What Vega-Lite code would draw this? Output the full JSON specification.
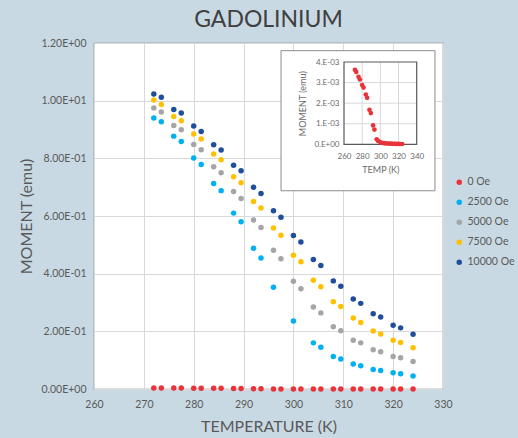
{
  "$schema": "https://vega.github.io/schema/vega-lite/v6.json",
  "width": 349,
  "height": 346,
  "autosize": {"type": "none"},
  "padding": {"left": 94, "top": 43, "right": 75, "bottom": 49},
  "background": "#c9d9e3",
  "title": {"text": "GADOLINIUM", "fontSize": 23, "font": "Lato", "fontWeight": "normal", "color": "#404040", "anchor": "middle", "offset": 6},
  "config": {
    "font": "Lato",
    "view": {"fill": "white", "stroke": "#808080", "strokeWidth": 1.2}
  },
  "datasets": {
    "moment": [
      {"T": 272, "series": "0 Oe", "M": 0.00362},
      {"T": 273.5, "series": "0 Oe", "M": 0.00352},
      {"T": 276, "series": "0 Oe", "M": 0.00328},
      {"T": 277.5, "series": "0 Oe", "M": 0.00315},
      {"T": 280, "series": "0 Oe", "M": 0.00288},
      {"T": 281.5, "series": "0 Oe", "M": 0.00276},
      {"T": 284, "series": "0 Oe", "M": 0.00242},
      {"T": 285.5, "series": "0 Oe", "M": 0.00226},
      {"T": 288, "series": "0 Oe", "M": 0.00168},
      {"T": 289.5, "series": "0 Oe", "M": 0.00152},
      {"T": 292, "series": "0 Oe", "M": 0.00092},
      {"T": 293.5, "series": "0 Oe", "M": 0.00072},
      {"T": 296, "series": "0 Oe", "M": 0.00025},
      {"T": 297.5, "series": "0 Oe", "M": 0.00017},
      {"T": 300, "series": "0 Oe", "M": 0.0001},
      {"T": 301.5, "series": "0 Oe", "M": 0.00008},
      {"T": 304, "series": "0 Oe", "M": 0.00006},
      {"T": 305.5, "series": "0 Oe", "M": 0.00005},
      {"T": 308, "series": "0 Oe", "M": 0.000045},
      {"T": 309.5, "series": "0 Oe", "M": 0.00004},
      {"T": 312, "series": "0 Oe", "M": 0.000035},
      {"T": 313.5, "series": "0 Oe", "M": 0.00003},
      {"T": 316, "series": "0 Oe", "M": 0.00003},
      {"T": 317.5, "series": "0 Oe", "M": 0.000025},
      {"T": 320, "series": "0 Oe", "M": 0.000025},
      {"T": 321.5, "series": "0 Oe", "M": 0.00002},
      {"T": 324, "series": "0 Oe", "M": 0.00002},

      {"T": 272, "series": "2500 Oe", "M": 0.940},
      {"T": 273.5, "series": "2500 Oe", "M": 0.927},
      {"T": 276, "series": "2500 Oe", "M": 0.877},
      {"T": 277.5, "series": "2500 Oe", "M": 0.858},
      {"T": 280, "series": "2500 Oe", "M": 0.801},
      {"T": 281.5, "series": "2500 Oe", "M": 0.779},
      {"T": 284, "series": "2500 Oe", "M": 0.713},
      {"T": 285.5, "series": "2500 Oe", "M": 0.688},
      {"T": 288, "series": "2500 Oe", "M": 0.610},
      {"T": 289.5, "series": "2500 Oe", "M": 0.580},
      {"T": 292, "series": "2500 Oe", "M": 0.488},
      {"T": 293.5, "series": "2500 Oe", "M": 0.454},
      {"T": 296, "series": "2500 Oe", "M": 0.353},
      {"T": 300, "series": "2500 Oe", "M": 0.236},
      {"T": 304, "series": "2500 Oe", "M": 0.160},
      {"T": 305.5, "series": "2500 Oe", "M": 0.145},
      {"T": 308, "series": "2500 Oe", "M": 0.113},
      {"T": 309.5, "series": "2500 Oe", "M": 0.104},
      {"T": 312, "series": "2500 Oe", "M": 0.087},
      {"T": 313.5, "series": "2500 Oe", "M": 0.081},
      {"T": 316, "series": "2500 Oe", "M": 0.068},
      {"T": 317.5, "series": "2500 Oe", "M": 0.064},
      {"T": 320, "series": "2500 Oe", "M": 0.056},
      {"T": 321.5, "series": "2500 Oe", "M": 0.053},
      {"T": 324, "series": "2500 Oe", "M": 0.045},

      {"T": 272, "series": "5000 Oe", "M": 0.975},
      {"T": 273.5, "series": "5000 Oe", "M": 0.961},
      {"T": 276, "series": "5000 Oe", "M": 0.914},
      {"T": 277.5, "series": "5000 Oe", "M": 0.899},
      {"T": 280, "series": "5000 Oe", "M": 0.848},
      {"T": 281.5, "series": "5000 Oe", "M": 0.830},
      {"T": 284, "series": "5000 Oe", "M": 0.771},
      {"T": 285.5, "series": "5000 Oe", "M": 0.750},
      {"T": 288, "series": "5000 Oe", "M": 0.685},
      {"T": 289.5, "series": "5000 Oe", "M": 0.661},
      {"T": 292, "series": "5000 Oe", "M": 0.586},
      {"T": 293.5, "series": "5000 Oe", "M": 0.560},
      {"T": 296, "series": "5000 Oe", "M": 0.481},
      {"T": 297.5, "series": "5000 Oe", "M": 0.452},
      {"T": 300, "series": "5000 Oe", "M": 0.374},
      {"T": 301.5, "series": "5000 Oe", "M": 0.348},
      {"T": 304, "series": "5000 Oe", "M": 0.284},
      {"T": 305.5, "series": "5000 Oe", "M": 0.264},
      {"T": 308, "series": "5000 Oe", "M": 0.216},
      {"T": 309.5, "series": "5000 Oe", "M": 0.202},
      {"T": 312, "series": "5000 Oe", "M": 0.169},
      {"T": 313.5, "series": "5000 Oe", "M": 0.160},
      {"T": 316, "series": "5000 Oe", "M": 0.136},
      {"T": 317.5, "series": "5000 Oe", "M": 0.129},
      {"T": 320, "series": "5000 Oe", "M": 0.113},
      {"T": 321.5, "series": "5000 Oe", "M": 0.108},
      {"T": 324, "series": "5000 Oe", "M": 0.095},

      {"T": 272, "series": "7500 Oe", "M": 1.002},
      {"T": 273.5, "series": "7500 Oe", "M": 0.987},
      {"T": 276, "series": "7500 Oe", "M": 0.945},
      {"T": 277.5, "series": "7500 Oe", "M": 0.930},
      {"T": 280, "series": "7500 Oe", "M": 0.884},
      {"T": 281.5, "series": "7500 Oe", "M": 0.867},
      {"T": 284, "series": "7500 Oe", "M": 0.815},
      {"T": 285.5, "series": "7500 Oe", "M": 0.795},
      {"T": 288, "series": "7500 Oe", "M": 0.736},
      {"T": 289.5, "series": "7500 Oe", "M": 0.715},
      {"T": 292, "series": "7500 Oe", "M": 0.650},
      {"T": 293.5, "series": "7500 Oe", "M": 0.628},
      {"T": 296, "series": "7500 Oe", "M": 0.558},
      {"T": 297.5, "series": "7500 Oe", "M": 0.533},
      {"T": 300, "series": "7500 Oe", "M": 0.464},
      {"T": 301.5, "series": "7500 Oe", "M": 0.441},
      {"T": 304, "series": "7500 Oe", "M": 0.377},
      {"T": 305.5, "series": "7500 Oe", "M": 0.355},
      {"T": 308, "series": "7500 Oe", "M": 0.303},
      {"T": 309.5, "series": "7500 Oe", "M": 0.286},
      {"T": 312, "series": "7500 Oe", "M": 0.246},
      {"T": 313.5, "series": "7500 Oe", "M": 0.231},
      {"T": 316, "series": "7500 Oe", "M": 0.201},
      {"T": 317.5, "series": "7500 Oe", "M": 0.191},
      {"T": 320, "series": "7500 Oe", "M": 0.169},
      {"T": 321.5, "series": "7500 Oe", "M": 0.161},
      {"T": 324, "series": "7500 Oe", "M": 0.143},

      {"T": 272, "series": "10000 Oe", "M": 1.023},
      {"T": 273.5, "series": "10000 Oe", "M": 1.012},
      {"T": 276, "series": "10000 Oe", "M": 0.969},
      {"T": 277.5, "series": "10000 Oe", "M": 0.957},
      {"T": 280, "series": "10000 Oe", "M": 0.912},
      {"T": 281.5, "series": "10000 Oe", "M": 0.893},
      {"T": 284, "series": "10000 Oe", "M": 0.847},
      {"T": 285.5, "series": "10000 Oe", "M": 0.829},
      {"T": 288, "series": "10000 Oe", "M": 0.776},
      {"T": 289.5, "series": "10000 Oe", "M": 0.757},
      {"T": 292, "series": "10000 Oe", "M": 0.700},
      {"T": 293.5, "series": "10000 Oe", "M": 0.678},
      {"T": 296, "series": "10000 Oe", "M": 0.618},
      {"T": 297.5, "series": "10000 Oe", "M": 0.596},
      {"T": 300, "series": "10000 Oe", "M": 0.532},
      {"T": 301.5, "series": "10000 Oe", "M": 0.510},
      {"T": 304, "series": "10000 Oe", "M": 0.449},
      {"T": 305.5, "series": "10000 Oe", "M": 0.428},
      {"T": 308, "series": "10000 Oe", "M": 0.375},
      {"T": 309.5, "series": "10000 Oe", "M": 0.356},
      {"T": 312, "series": "10000 Oe", "M": 0.312},
      {"T": 313.5, "series": "10000 Oe", "M": 0.297},
      {"T": 316, "series": "10000 Oe", "M": 0.261},
      {"T": 317.5, "series": "10000 Oe", "M": 0.250},
      {"T": 320, "series": "10000 Oe", "M": 0.221},
      {"T": 321.5, "series": "10000 Oe", "M": 0.212},
      {"T": 324, "series": "10000 Oe", "M": 0.190}
    ]
  },
  "layer": [
    {
      "data": {"name": "moment"},
      "mark": {"type": "circle", "size": 30, "opacity": 1},
      "encoding": {
        "x": {
          "field": "T", "type": "quantitative",
          "scale": {"domain": [260, 330], "nice": false, "zero": false},
          "axis": {
            "values": [260, 270, 280, 290, 300, 310, 320, 330],
            "title": "TEMPERATURE (K)", "grid": true, "gridColor": "#d9d9d9", "domain": false, "ticks": false,
            "labelFontSize": 10.5, "labelColor": "#595959", "labelPadding": 10, "labelFlush": false,
            "titleFontSize": 16, "titleFontWeight": "normal", "titleColor": "#595959", "titlePadding": 9
          }
        },
        "y": {
          "field": "M", "type": "quantitative",
          "scale": {"domain": [0, 1.2], "nice": false},
          "axis": {
            "values": [0, 0.2, 0.4, 0.6, 0.8, 1, 1.2],
            "labelExpr": "datum.value == 1 ? '1.00E+01' : datum.value == 0 ? '0.00E+00' : datum.value > 1 ? format(datum.value, '.2f') + 'E+00' : format(datum.value * 10, '.2f') + 'E-01'",
            "title": "MOMENT (emu)", "grid": true, "gridColor": "#d9d9d9", "domain": false, "ticks": false,
            "labelFontSize": 10.5, "labelColor": "#595959", "labelPadding": 8, "labelFlush": false,
            "titleFontSize": 16, "titleFontWeight": "normal", "titleColor": "#595959", "titlePadding": 6
          }
        },
        "color": {
          "field": "series", "type": "nominal",
          "scale": {"domain": ["0 Oe", "2500 Oe", "5000 Oe", "7500 Oe", "10000 Oe"], "range": ["#e8333a", "#00b0f0", "#a5a5a5", "#ffc000", "#1f4e9a"]},
          "legend": {
            "orient": "none", "legendX": 360, "legendY": 134, "title": null, "padding": 0,
            "symbolType": "circle", "symbolSize": 30, "labelFontSize": 10.5, "labelColor": "#595959",
            "rowPadding": 9, "labelOffset": 3
          }
        }
      }
    },
    {
      "layer": [
        {
          "data": {"values": [{}]},
          "mark": {"type": "rect", "fill": "white", "stroke": "#8c8c8c", "strokeWidth": 1},
          "encoding": {
            "x": {"datum": 190.7, "type": "quantitative", "scale": {"domain": [260, 340], "range": [250, 322.7], "nice": false, "zero": false}},
            "x2": {"datum": 360.1},
            "y": {"datum": 0.00455, "type": "quantitative", "scale": {"domain": [0, 0.004], "range": [101.4, 19], "nice": false, "zero": false}},
            "y2": {"datum": -0.00225}
          }
        },
        {
          "data": {"values": [{}]},
          "mark": {"type": "rule", "color": "#d9d9d9", "strokeWidth": 1},
          "encoding": {"x": {"datum": 280, "type": "quantitative"}, "y": {"datum": 0, "type": "quantitative"}, "y2": {"datum": 0.004}}
        },
        {
          "data": {"values": [{}]},
          "mark": {"type": "rule", "color": "#d9d9d9", "strokeWidth": 1},
          "encoding": {"x": {"datum": 300, "type": "quantitative"}, "y": {"datum": 0, "type": "quantitative"}, "y2": {"datum": 0.004}}
        },
        {
          "data": {"values": [{}]},
          "mark": {"type": "rule", "color": "#d9d9d9", "strokeWidth": 1},
          "encoding": {"x": {"datum": 320, "type": "quantitative"}, "y": {"datum": 0, "type": "quantitative"}, "y2": {"datum": 0.004}}
        },
        {
          "data": {"values": [{}]},
          "mark": {"type": "rule", "color": "#d9d9d9", "strokeWidth": 1},
          "encoding": {"y": {"datum": 0.001, "type": "quantitative"}, "x": {"datum": 260, "type": "quantitative"}, "x2": {"datum": 340}}
        },
        {
          "data": {"values": [{}]},
          "mark": {"type": "rule", "color": "#d9d9d9", "strokeWidth": 1},
          "encoding": {"y": {"datum": 0.002, "type": "quantitative"}, "x": {"datum": 260, "type": "quantitative"}, "x2": {"datum": 340}}
        },
        {
          "data": {"values": [{}]},
          "mark": {"type": "rule", "color": "#d9d9d9", "strokeWidth": 1},
          "encoding": {"y": {"datum": 0.003, "type": "quantitative"}, "x": {"datum": 260, "type": "quantitative"}, "x2": {"datum": 340}}
        },
        {
          "data": {"values": [{}]},
          "mark": {"type": "rect", "fill": null, "fillOpacity": 0, "stroke": "#595959", "strokeWidth": 1.2},
          "encoding": {"x": {"datum": 260, "type": "quantitative"}, "x2": {"datum": 340}, "y": {"datum": 0, "type": "quantitative"}, "y2": {"datum": 0.004}}
        },
        {
          "data": {"name": "moment"},
          "transform": [{"filter": "datum.series == '0 Oe'"}],
          "mark": {"type": "circle", "size": 22, "opacity": 1, "color": "#e8333a"},
          "encoding": {
            "x": {
              "field": "T", "type": "quantitative",
              "scale": {"domain": [260, 340], "range": [250, 322.7], "nice": false, "zero": false},
              "axis": {
                "orient": "bottom", "offset": -244.6, "zindex": 2,
                "values": [260, 280, 300, 320, 340], "title": "TEMP (K)", "grid": false, "domain": false, "ticks": false,
                "labelFontSize": 8, "labelColor": "#6b6b6b", "labelPadding": 8, "labelFlush": false,
                "titleFontSize": 9, "titleFontWeight": "normal", "titleColor": "#6b6b6b", "titlePadding": 5
              }
            },
            "y": {
              "field": "M", "type": "quantitative",
              "scale": {"domain": [0, 0.004], "range": [101.4, 19], "nice": false, "zero": false},
              "axis": {
                "orient": "left", "offset": -250, "zindex": 2,
                "values": [0, 0.001, 0.002, 0.003, 0.004],
                "labelExpr": "datum.value == 0 ? '0.E+00' : format(datum.value * 1000, '.0f') + '.E-03'",
                "title": "MOMENT (emu)", "grid": false, "domain": false, "ticks": false,
                "labelFontSize": 8, "labelColor": "#6b6b6b", "labelPadding": 5, "labelFlush": false,
                "titleFontSize": 9, "titleFontWeight": "normal", "titleColor": "#6b6b6b", "titlePadding": 6
              }
            }
          }
        }
      ]
    }
  ],
  "resolve": {"scale": {"x": "independent", "y": "independent", "color": "independent"}}
}
